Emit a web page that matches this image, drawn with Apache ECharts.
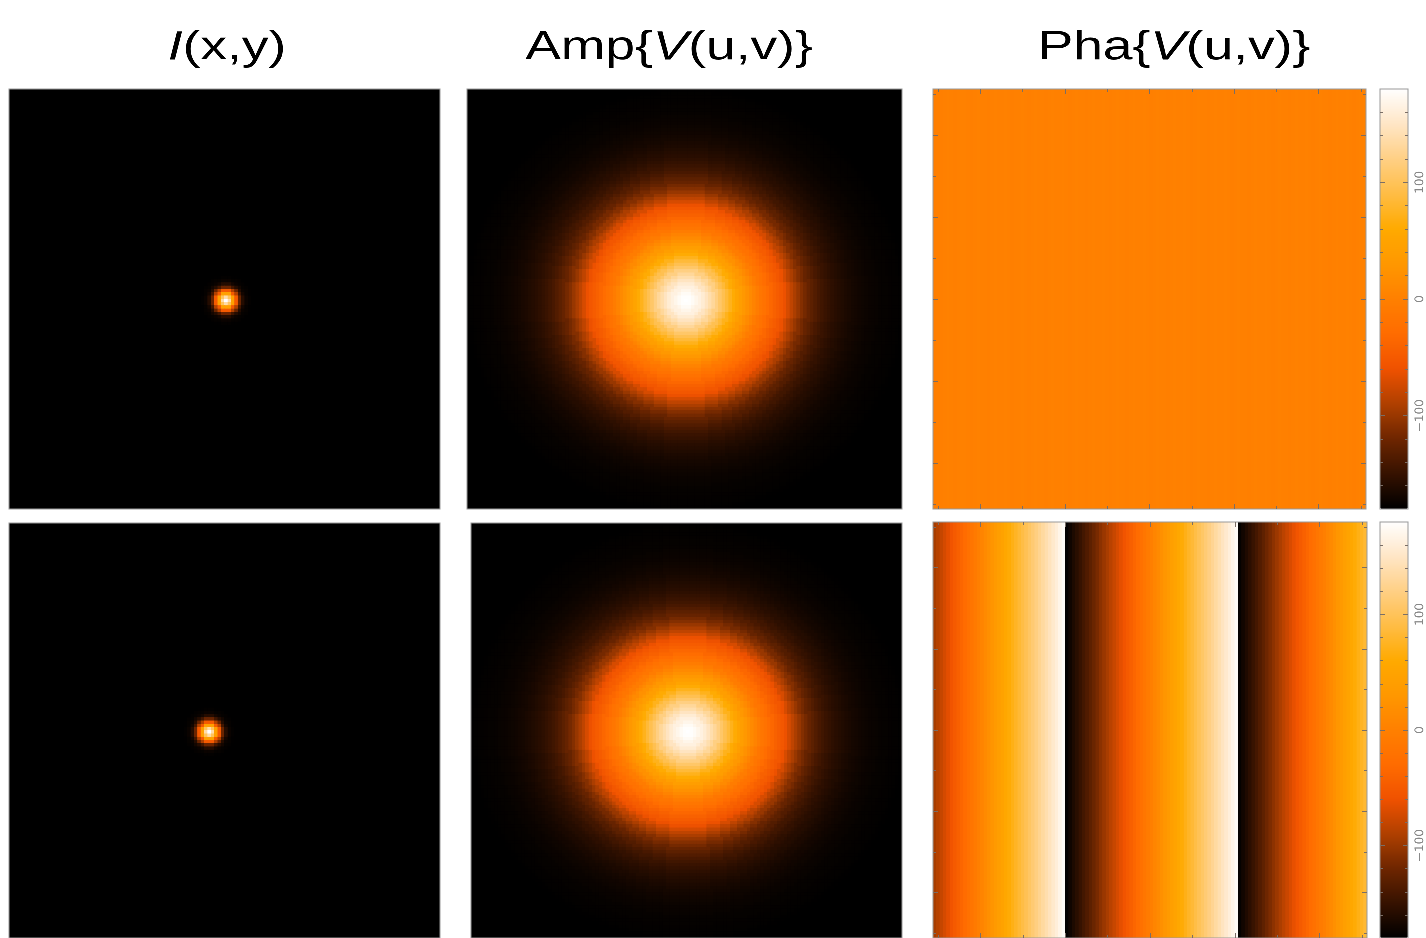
<!DOCTYPE html>
<html>
<head>
<meta charset="utf-8">
<script src="https://cdn.jsdelivr.net/npm/echarts@6/dist/echarts.min.js"></script>
<style>
    html, body { margin: 0; padding: 0; background: #fff; }
    #main { width: 1426px; height: 938px; }
</style>
</head>
<body>
<div id="main"></div>
<script>
var N = 128;

// brightness of the point source vs radius (one entry per half pixel)
var srcProfile = [1.0, 0.97, 0.88, 0.78, 0.62, 0.50, 0.36, 0.25, 0.16, 0.10, 0.055, 0.03, 0.015, 0.008, 0.004, 0.002];
var srcCenterTop = [64, 64];
var srcCenterBottom = [59, 64];

// visibility amplitude vs radius (one entry per pixel)
var ampProfile = [
    1.0, 0.995, 0.985, 0.97, 0.955, 0.935, 0.91, 0.885, 0.86, 0.83,
    0.795, 0.765, 0.735, 0.70, 0.67, 0.64, 0.61, 0.585, 0.56, 0.535,
    0.51, 0.485, 0.46, 0.44, 0.42, 0.40, 0.38, 0.365, 0.35, 0.33,
    0.30, 0.27, 0.245, 0.22, 0.195, 0.175, 0.155, 0.14, 0.125, 0.11,
    0.098, 0.088, 0.078, 0.07, 0.062, 0.055, 0.049, 0.043, 0.038, 0.033,
    0.029, 0.025, 0.022, 0.019, 0.016, 0.014, 0.012, 0.010, 0.008, 0.007,
    0.006, 0.005, 0.004, 0.003, 0.002
];
var ampCenterTop = [64, 64];
var ampCenterBottom = [64, 64];

// visibility phase (degrees) per u column, same for every v row
var phaseTop = [
    -3, -2, -1, 0, 1, 0, -1, 0, 1, 1, 0, -1, 0, 1, 0, 0, -1, 0, 1, 0, 0, 1, 0, -1, 0, 0, 1, 0, -1, 0, 1, 0,
    0, -1, 0, 1, 0, 0, 1, 0, -1, 0, 1, 0, 0, -1, 0, 1, 0, 0, 1, 0, -1, 0, 1, 0, 0, -1, 0, 1, 0, 0, 1, 0,
    -1, 0, 1, 0, 0, -1, 0, 1, 0, 0, 1, 0, -1, 0, 1, 0, 0, -1, 0, 1, 0, 0, 1, 0, -1, 0, 1, 0, 0, -1, 0, 1,
    0, 0, 1, 0, -1, 0, 1, 0, 0, -1, 0, 1, 0, 0, 1, 0, -1, 0, 1, 0, 0, -1, 0, 1, 0, 0, 1, 0, -1, 0, 1, 2
];
var phaseBottom = [
    -94, -87, -80, -73, -66, -58, -51, -44, -37, -30, -23, -16, -9, -2, 5, 12,
    19, 26, 33, 40, 47, 55, 62, 69, 76, 83, 90, 97, 104, 111, 118, 125,
    132, 139, 146, 153, 160, 168, 175, -178, -171, -164, -157, -150, -143, -136, -129, -122,
    -115, -107, -100, -93, -86, -79, -72, -65, -58, -51, -44, -37, -30, -22, -15, -8,
    -1, 6, 13, 20, 27, 34, 41, 48, 55, 62, 70, 77, 84, 91, 98, 105,
    112, 119, 126, 133, 140, 147, 154, 161, 168, 175, -177, -170, -163, -156, -149, -142,
    -135, -128, -120, -113, -106, -99, -92, -85, -78, -71, -64, -57, -50, -43, -36, -29,
    -22, -15, -8, -1, 6, 13, 20, 27, 34, 41, 48, 55, 62, 69, 76, 83
];

var titles = ['{it|I}(x,y)', 'Amp{{it|V}(u,v)}', 'Pha{{it|V}(u,v)}'];
var cbarMajor = [-100, 0, 100];
var cbarMinor = [-160, -140, -120, -80, -60, -40, -20, 20, 40, 60, 80, 120, 140, 160];
var uvMajor = [-50, -25, 0, 25, 50];
var uvMinor = [-62.5, -37.5, -12.5, 12.5, 37.5, 62.5];

var heatColors = ['#000000', '#361200', '#6e2600', '#b04000', '#f05200', '#ff6c00', '#ff8000',
    '#ff9800', '#ffaa00', '#ffbd45', '#ffd085', '#ffe6c6', '#ffffff'];

var FONT = '"Liberation Sans", Arial, sans-serif';
var BORDER = '#999';
var TICK = '#7a6e66';

var panels = [
    {left: 9, top: 89, width: 431, height: 420},
    {left: 467, top: 89, width: 435, height: 420},
    {left: 933, top: 89, width: 433, height: 420},
    {left: 9, top: 523, width: 431, height: 415},
    {left: 471, top: 523, width: 431, height: 415},
    {left: 933, top: 522, width: 434, height: 416}
];
var panelBg = ['#000', '#000', '#ff8000', '#000', '#000', 'transparent'];
var cbars = [
    {left: 1380, top: 89, width: 28, height: 420},
    {left: 1380, top: 522, width: 28, height: 416}
];
var titleX = [227, 669, 1174];

function radialCells(profile, center, perPixel) {
    var out = [];
    for (var row = 0; row < N; row++) {
        for (var col = 0; col < N; col++) {
            var dx = col - center[0], dy = row - center[1];
            var k = Math.round(Math.sqrt(dx * dx + dy * dy) * perPixel);
            out.push([col, row, k < profile.length ? profile[k] : 0]);
        }
    }
    return out;
}

function columnCells(vals) {
    return vals.map(function(v, i) {
        return [i, 0, v];
    });
}

var idx = [];
for (var i = 0; i < N; i++) idx.push(i);

var cellData = [
    radialCells(srcProfile, srcCenterTop, 2),
    radialCells(ampProfile, ampCenterTop, 1),
    columnCells(phaseTop),
    radialCells(srcProfile, srcCenterBottom, 2),
    radialCells(ampProfile, ampCenterBottom, 1),
    columnCells(phaseBottom)
];

var grids = [], xAxes = [], yAxes = [], series = [];

panels.forEach(function(p, k) {
    var isPhase = (k === 2 || k === 5);
    // background behind the cells (hides seams), border drawn by the overlay grid
    grids.push({
        left: p.left, top: p.top, width: p.width, height: p.height,
        show: true, borderWidth: 0, backgroundColor: panelBg[k], z: 0
    });
    xAxes.push({type: 'category', gridIndex: k, data: idx, show: false});
    yAxes.push({type: 'category', gridIndex: k, data: isPhase ? [0] : idx, inverse: true, show: false});
    series.push({
        type: 'heatmap',
        xAxisIndex: k,
        yAxisIndex: k,
        data: cellData[k],
        progressive: 0,
        silent: true,
        emphasis: {disabled: true},
        itemStyle: {borderWidth: 0}
    });
});

function tickAxis(g, pos, min, max, vals, len, label) {
    var ax = {
        type: 'value', gridIndex: g, position: pos, min: min, max: max, z: 12,
        axisLine: {show: false, onZero: false, lineStyle: {color: TICK}},
        splitLine: {show: false},
        axisLabel: {show: false},
        axisTick: {show: !!vals, inside: true, length: len, customValues: vals || [],
            lineStyle: {color: TICK, width: 1}}
    };
    if (label) ax.axisLabel = label;
    return ax;
}

function addTicks(rect, xVals, yVals, range, len, border, label) {
    var g = grids.length;
    grids.push({
        left: rect.left, top: rect.top, width: rect.width, height: rect.height,
        show: border, borderColor: BORDER, borderWidth: 1, backgroundColor: 'transparent', z: 12
    });
    xAxes.push(tickAxis(g, 'bottom', -64, 64, xVals, len));
    xAxes.push(tickAxis(g, 'top', -64, 64, xVals, len));
    yAxes.push(tickAxis(g, 'left', -range, range, yVals, len));
    yAxes.push(tickAxis(g, 'right', -range, range, yVals, len, label));
}

// borders of the image panels
[0, 1, 3, 4].forEach(function(k) {
    addTicks(panels[k], null, null, 64, 0, true);
});
[2, 5].forEach(function(k) {
    addTicks(panels[k], uvMajor, uvMajor, 64, 5, true);
    addTicks(panels[k], uvMinor, uvMinor, 64, 3, false);
});

var cbarLabel = {
    show: true, customValues: cbarMajor, rotate: 90, margin: 6,
    color: '#888', fontSize: 12, fontFamily: '"DejaVu Sans", sans-serif',
    formatter: function(v) { return String(v).replace('-', '\u2212'); }
};
cbars.forEach(function(c) {
    addTicks(c, null, cbarMajor, 180, 5, true, cbarLabel);
    addTicks(c, null, cbarMinor, 180, 3, false);
});

var visualMaps = [
    {type: 'continuous', show: false, seriesIndex: [0, 1, 3, 4], min: 0, max: 1,
        inRange: {color: heatColors}},
    {type: 'continuous', show: true, seriesIndex: 2, min: -180, max: 180,
        left: cbars[0].left, top: cbars[0].top, itemWidth: cbars[0].width, itemHeight: cbars[0].height,
        padding: 0, calculable: false, hoverLink: false, inRange: {color: heatColors}},
    {type: 'continuous', show: true, seriesIndex: 5, min: -180, max: 180,
        left: cbars[1].left, top: cbars[1].top, itemWidth: cbars[1].width, itemHeight: cbars[1].height,
        padding: 0, calculable: false, hoverLink: false, inRange: {color: heatColors}}
];

var graphics = titles.map(function(t, k) {
    return {
        type: 'text',
        x: titleX[k],
        y: 48,
        scaleX: 1.3,
        style: {
            text: t,
            fontSize: 41,
            fontFamily: FONT,
            fill: '#000',
            align: 'center',
            verticalAlign: 'middle',
            rich: {
                it: {fontSize: 41, fontFamily: FONT, fontStyle: 'italic', fill: '#000'}
            }
        }
    };
});

var chart = echarts.init(document.getElementById('main'), null, {devicePixelRatio: 4});
chart.setOption({
    animation: false,
    backgroundColor: '#fff',
    grid: grids,
    xAxis: xAxes,
    yAxis: yAxes,
    visualMap: visualMaps,
    series: series,
    graphic: graphics
});
</script>
</body>
</html>
